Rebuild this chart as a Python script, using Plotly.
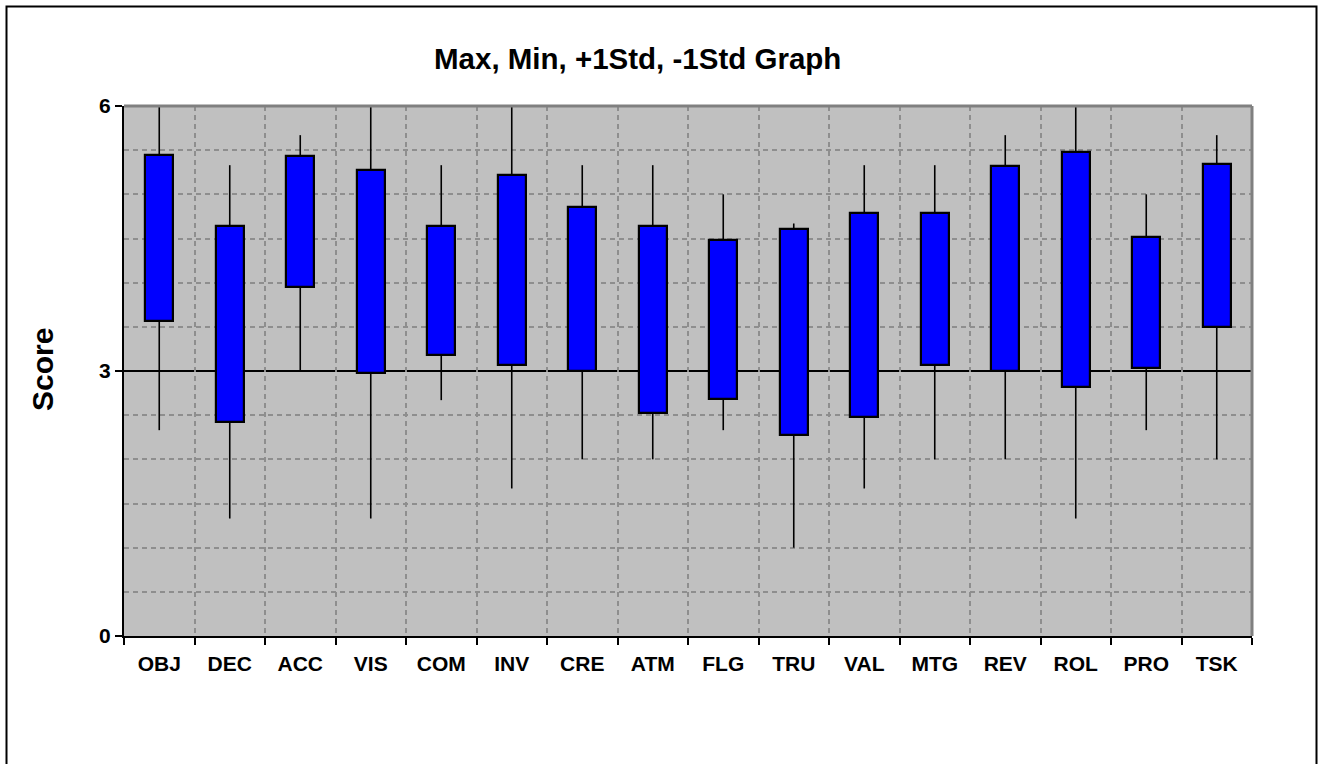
import plotly.graph_objects as go

categories = ["OBJ", "DEC", "ACC", "VIS", "COM", "INV", "CRE", "ATM",
              "FLG", "TRU", "VAL", "MTG", "REV", "ROL", "PRO", "TSK"]
max_vals = [6.0, 5.33, 5.67, 6.0, 5.33, 6.0, 5.33, 5.33,
            5.0, 4.67, 5.33, 5.33, 5.67, 6.0, 5.0, 5.67]
plus_1std = [5.45, 4.64, 5.43, 5.27, 4.64, 5.22, 4.86, 4.64,
             4.48, 4.61, 4.79, 4.79, 5.32, 5.48, 4.52, 5.34]
minus_1std = [3.57, 2.42, 3.95, 2.98, 3.18, 3.07, 3.00, 2.53,
              2.68, 2.27, 2.48, 3.07, 3.00, 2.82, 3.03, 3.50]
min_vals = [2.33, 1.33, 3.0, 1.33, 2.67, 1.67, 2.0, 2.0,
            2.33, 1.0, 1.67, 2.0, 2.0, 1.33, 2.33, 2.0]
y_ticks = [0, 3, 6]
y_minor_grid = [0.5, 1, 1.5, 2, 2.5, 3.5, 4, 4.5, 5, 5.5]

W, H = 1320, 764
L, R, T, B = 124, 68, 106, 128
pw, ph = W - L - R, H - T - B


def px_x(px):
    return (px - L) / pw


def px_y(py):
    return (H - B - py) / ph


fig = go.Figure()

# whiskers (above and below each box)
wx, wy = [], []
for c, mx, hi, lo, mn in zip(categories, max_vals, plus_1std, minus_1std, min_vals):
    wx += [c, c, None, c, c, None]
    wy += [hi, mx, None, lo, mn, None]
fig.add_trace(go.Scatter(x=wx, y=wy, mode="lines",
                         line=dict(color="black", width=1.6),
                         hoverinfo="skip", showlegend=False))

fig.add_trace(go.Bar(
    x=categories,
    y=[h - l for h, l in zip(plus_1std, minus_1std)],
    base=minus_1std,
    width=0.4,
    marker=dict(color="#0000FF", line=dict(color="black", width=2.2)),
    showlegend=False,
    customdata=list(zip(max_vals, plus_1std, minus_1std, min_vals)),
    hovertemplate="%{x}<br>Max %{customdata[0]}<br>+1Std %{customdata[1]}"
                  "<br>-1Std %{customdata[2]}<br>Min %{customdata[3]}<extra></extra>",
))

font_family = "Liberation Sans, Arial, sans-serif"

fig.update_layout(
    width=W, height=H,
    margin=dict(l=L, r=R, t=T, b=B, pad=0),
    paper_bgcolor="white",
    plot_bgcolor="#C0C0C0",
    font=dict(family=font_family, color="black"),
    bargap=0,
    xaxis=dict(
        type="category",
        range=[-0.5, 15.5],
        tickson="boundaries",
        ticks="outside", ticklen=7, tickwidth=1.5, tickcolor="black",
        ticklabelstandoff=8,
        showline=True, linecolor="black", linewidth=2,
        showgrid=True, gridcolor="#8E8E8E", gridwidth=1.5, griddash="5px,4px",
        tickfont=dict(size=21, family=font_family, weight="bold"),
        zeroline=False,
        fixedrange=True,
    ),
    yaxis=dict(
        range=[0, 6],
        tickvals=y_ticks,
        ticks="outside", ticklen=7, tickwidth=1.5, tickcolor="black",
        showline=True, linecolor="black", linewidth=2,
        showgrid=False, zeroline=False,
        tickfont=dict(size=21, family=font_family, weight="bold"),
        minor=dict(tickvals=y_minor_grid, showgrid=True, gridcolor="#8E8E8E",
                   gridwidth=1.5, griddash="5px,4px", ticks=""),
        fixedrange=True,
    ),
    shapes=[
        # solid line at score 3 (above grid, below boxes)
        dict(type="line", xref="paper", yref="y", x0=0, x1=1, y0=3, y1=3,
             line=dict(color="black", width=1.8), layer="between"),
        # grey top and right border of plot area
        dict(type="line", xref="paper", yref="paper", x0=0, x1=1, y0=1, y1=1,
             line=dict(color="#808080", width=3)),
        dict(type="line", xref="paper", yref="paper", x0=1, x1=1, y0=0, y1=1,
             line=dict(color="#808080", width=3)),
        # outer chart frame
        dict(type="rect", xref="paper", yref="paper",
             x0=px_x(6.5), x1=px_x(1316.5), y0=px_y(790), y1=px_y(6.5),
             line=dict(color="black", width=2), fillcolor="rgba(0,0,0,0)"),
    ],
    annotations=[
        dict(text="<b>Max, Min, +1Std, -1Std Graph</b>", xref="paper", yref="paper",
             x=px_x(637), y=px_y(59), xanchor="center", yanchor="middle",
             showarrow=False, font=dict(size=29.5, family=font_family)),
        dict(text="<b>Score</b>", xref="paper", yref="paper",
             x=px_x(42), y=px_y(370), xanchor="center", yanchor="middle",
             textangle=-90, showarrow=False, font=dict(size=30, family=font_family)),
    ],
)

fig.write_html("out.html",
               config={"displayModeBar": False},
               post_script="document.body.style.margin='0';"
                           "document.body.style.overflow='hidden';")
